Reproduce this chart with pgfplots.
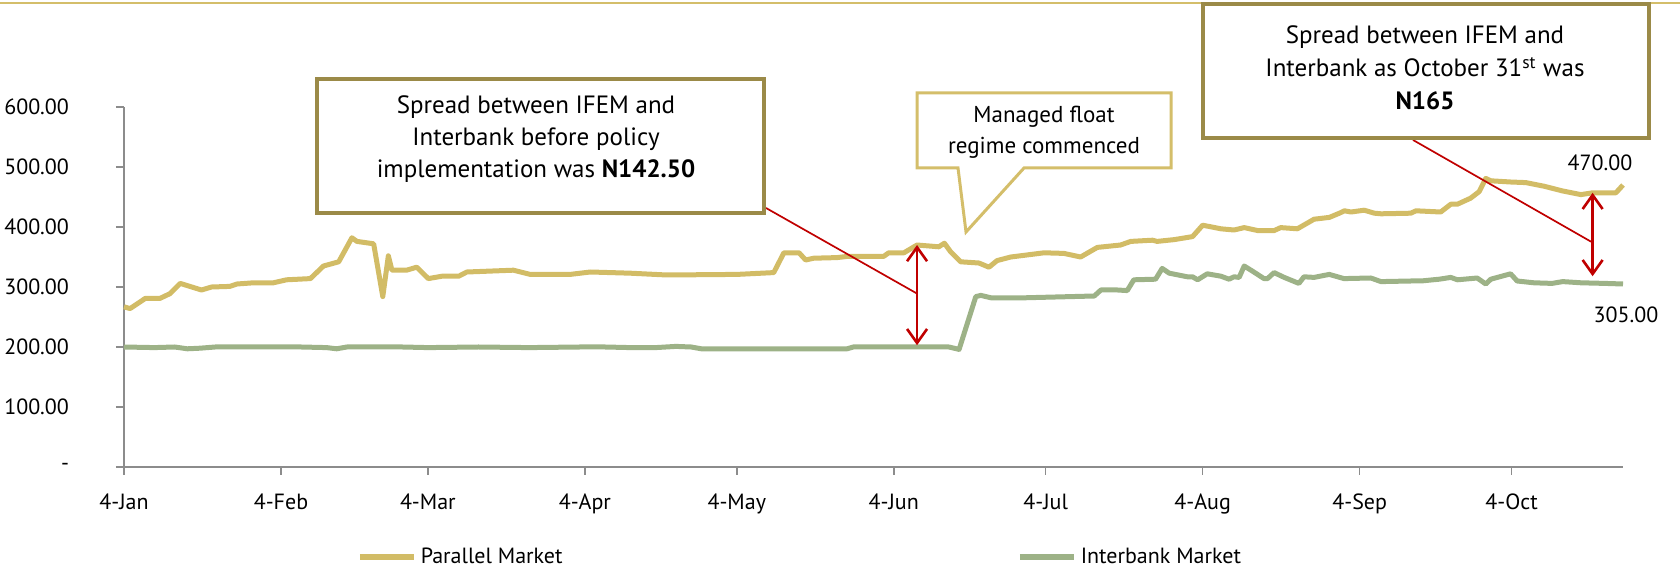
\documentclass[border=0pt]{standalone}
\usepackage{fontspec}
\setmainfont{PT Sans}
\usepackage{pgfplots}
\pgfplotsset{compat=1.18}
\usetikzlibrary{arrows.meta}
\definecolor{parallel}{HTML}{D2BC66}
\definecolor{interbank}{HTML}{9DB287}
\definecolor{boxdark}{HTML}{9B8A48}
\definecolor{callgold}{HTML}{D4BE6A}
\definecolor{sred}{HTML}{C00000}
\definecolor{axgray}{HTML}{8C8C8C}
\begin{document}
\begin{tikzpicture}
\path[use as bounding box] (0,0) rectangle (840pt,285.5pt);
\draw[callgold, line width=1pt] (0pt,284.2pt) -- (840pt,284.2pt);
\begin{axis}[
  at={(62pt,52pt)}, anchor=south west,
  scale only axis, width=749.5pt, height=180pt,
  xmin=0, xmax=296, ymin=0, ymax=600,
  axis x line*=bottom, axis y line*=left,
  axis line style={draw=axgray, line width=0.8pt, -},
  tick style={draw=axgray, line width=0.8pt},
  tick align=outside, major tick length=4pt,
  xtick={0,31,60,91,121,152,182,213,244,274},
  xticklabels={4-Jan,4-Feb,4-Mar,4-Apr,4-May,4-Jun,4-Jul,4-Aug,4-Sep,4-Oct},
  ytick={0,100,200,300,400,500,600},
  yticklabels={-,100.00,200.00,300.00,400.00,500.00,600.00},
  ticklabel style={font=\fontsize{11}{13}\selectfont},
  xticklabel style={yshift=-6pt},
  yticklabel style={xshift=-20pt},
  clip=false,
  legend columns=2,
  legend style={at={(0.151,-0.25)}, anchor=west, draw=none, fill=none,
    font=\fontsize{11}{13}\selectfont, nodes={inner sep=0pt},
    /tikz/every odd column/.append style={column sep=2pt}},
  legend image code/.code={\draw[#1,line width=3pt] (0pt,0pt) -- (27pt,0pt);},
]
\addplot[parallel, line width=2.5pt, line join=round] coordinates {
(0,267) (1.2,264) (4.2,281) (7.1,281) (9.1,289) (11.1,306) (15.3,295) (17.3,300)
(20.9,301) (22.3,305) (25.6,307) (29.5,307) (32.1,312) (36.8,314) (39.4,335)
(42.4,342) (45.0,382) (46.0,376) (49.3,372) (51.1,284) (52.2,352) (52.9,328)
(55.8,328) (57.8,333) (60.1,314) (62.8,318) (66.1,318) (67.7,325) (76.9,328)
(80.2,321) (88.1,321) (92.1,325) (100.0,323) (107.2,320) (121.1,321) (128.3,324)
(130.3,357) (133.3,357) (134.6,345) (136.2,348) (140.8,349) (142.8,351) (150,351)
(151,357) (154,357) (156.6,370) (160.9,367) (162,373) (163.2,359) (165.2,342)
(168.8,340) (170.8,333) (172.4,344) (175.1,350) (181.7,357) (185.6,356) (188.9,350)
(192.2,366) (196.8,370) (198.8,376) (203.1,378) (204.0,376) (207.4,379) (211.0,384)
(213.0,403) (216.6,397) (219.2,395) (221.2,399) (223.9,394) (227.1,394) (228.4,399)
(231.7,397) (235.0,413) (238.0,416) (240.0,423) (241.0,427) (242.3,425) (244.9,428)
(246.9,423) (248.2,422) (254.1,423) (255.1,427) (260.0,425) (262.0,438) (263.3,438)
(265.9,448) (267.6,459) (268.9,481) (269.9,477) (273.8,475) (276.8,474) (280.4,468)
(284.1,460) (287.7,454) (290.0,457) (294.6,457) (296,470)
};
\addlegendentry{\makebox[298pt][l]{Parallel Market}}
\addplot[interbank, line width=2.5pt, line join=round] coordinates {
(0,200) (6,199) (10,200) (12.5,197) (15,198) (18,200) (35,200) (40,199) (42,197)
(44,200) (55,200) (60,199) (70,200) (80,199) (90,200) (95,200) (100,199) (105,199)
(109,201) (112,200) (114,197) (142.8,197) (144,200) (162.9,200) (164.9,196)
(168.2,284) (169.2,286) (171.2,282) (177.8,282) (187,284) (191.6,285) (192.9,295)
(196.2,295) (198.1,294) (199.4,312) (203.7,313) (205.0,331) (206.4,323) (210.0,317)
(211.0,317) (212.0,312) (213.9,322) (216.6,318) (218.2,313) (219.2,317) (220.2,316)
(221.2,335) (223.1,325) (225.1,314) (225.8,314) (227.1,324) (229.1,316) (232.0,306)
(233.0,317) (235.0,316) (238.0,321) (240.9,314) (246.2,315) (248.2,309) (254.1,310)
(256.1,310) (259.7,313) (262.0,316) (263.3,312) (267.2,315) (268.9,305) (269.9,313)
(273.8,322) (275.1,310) (278.4,307) (282.0,306) (284.1,309) (287.7,307) (292.4,306)
(296,305)
};
\addlegendentry{Interbank Market}
\coordinate (r1) at (axis cs:156.6,289);
\coordinate (r2) at (axis cs:289.7,375.5);
\draw[sred, line width=1.3pt, {Straight Barb[length=7pt,width=10pt]}-{Straight Barb[length=7pt,width=10pt]}]
  (axis cs:156.6,203) -- (axis cs:156.6,370);
\draw[sred, line width=1.3pt, {Straight Barb[length=7pt,width=10pt]}-{Straight Barb[length=7pt,width=10pt]}]
  (axis cs:290,318) -- (axis cs:290,457);
\end{axis}
\draw[sred, line width=0.85pt] (383pt,181.5pt) -- (r1);
\draw[sred, line width=0.85pt] (706.5pt,215.5pt) -- (r2);
% box 1
\draw[boxdark, line width=2pt, fill=white] (158.5pt,179pt) rectangle (382pt,246pt);
\node[align=center, font=\fontsize{12.5}{16}\selectfont] at (268pt,216pt)
  {Spread between IFEM and\\Interbank before policy\\implementation was \textbf{N142.50}};
% callout
\draw[callgold, line width=1.5pt, fill=white, line join=miter]
  (458.5pt,239pt) -- (585.5pt,239pt) -- (585.5pt,201.5pt) -- (512pt,201.5pt)
  -- (483pt,169.5pt) -- (479pt,201.5pt) -- (458.5pt,201.5pt) -- cycle;
\node[align=center, font=\fontsize{11.5}{15.5}\selectfont] at (522pt,219.5pt)
  {Managed float\\regime commenced};
% box 2
\draw[boxdark, line width=2pt, fill=white] (601.5pt,216.5pt) rectangle (824.5pt,283.5pt);
\node[align=center, font=\fontsize{12.5}{16.5}\selectfont] at (712.5pt,251.5pt)
  {Spread between IFEM and\\Interbank as October 31\textsuperscript{st} was\\\textbf{N165}};
% value labels
\node[font=\fontsize{11}{13}\selectfont] at (800pt,204pt) {470.00};
\node[font=\fontsize{11}{13}\selectfont] at (813pt,128pt) {305.00};
\end{tikzpicture}
\end{document}
